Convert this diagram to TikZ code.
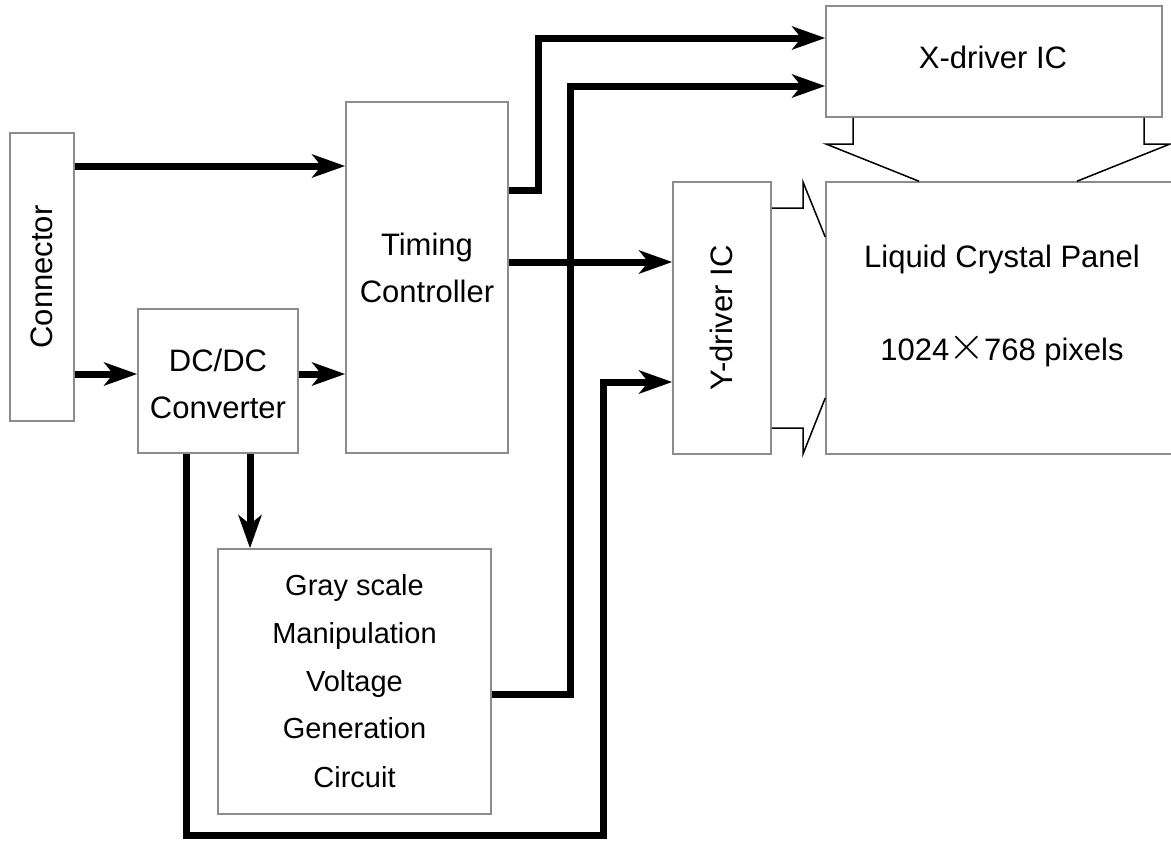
\documentclass[tikz,border=0pt]{standalone}
\usepackage{fontspec}
\usepackage{graphicx}
\setmainfont{Liberation Sans}
\usetikzlibrary{arrows.meta}
\definecolor{boxgray}{RGB}{140,140,140}
\tikzset{
  blk/.style={draw=boxgray, line width=1.5pt, inner sep=0pt, minimum width=#1},
  thickarr/.style={line width=7pt, line join=miter, -{Stealth[length=33pt,width=23pt,inset=9pt]}},
  thinline/.style={line width=1.5pt, line join=miter},
  txt/.style={font=\fontsize{31}{37}\selectfont, inner sep=0pt, anchor=base},
  txts/.style={font=\fontsize{29}{35}\selectfont, inner sep=0pt, anchor=base}
}
\begin{document}
\begin{tikzpicture}[x=1pt,y=-1pt]
\useasboundingbox (0,0) rectangle (1171,841);
\clip (0,0) rectangle (1171,841);
% boxes
\node[blk=64pt, minimum height=288pt] (con) at (42,277) {};
\node[blk=160pt, minimum height=144pt] (dc) at (218,381) {};
\node[blk=162pt, minimum height=351pt] (tc) at (427,277.5) {};
\node[blk=273pt, minimum height=265pt] (gray) at (354.5,681.5) {};
\node[blk=336pt, minimum height=111pt] (xd) at (994,61.5) {};
\node[blk=98pt, minimum height=272pt] (yd) at (722,318) {};
\node[blk=359pt, minimum height=272pt] (lcp) at (1005.5,318) {};
% texts
\node[txt, rotate=90] (conT) at (52,277) {Connector};
\node[txt] (dcT1) at (218,371) {DC/DC};
\node[txt] (dcT2) at (218,418) {Converter};
\node[txt] (tcT1) at (427,255) {Timing};
\node[txt] (tcT2) at (427,302) {Controller};
\node[txts] (gT1) at (354.5,595) {Gray scale};
\node[txts] (gT2) at (354.5,643) {Manipulation};
\node[txts] (gT3) at (354.5,691) {Voltage};
\node[txts] (gT4) at (354.5,738) {Generation};
\node[txts] (gT5) at (354.5,787) {Circuit};
\node[txt] (xdT) at (993,68) {X-driver IC};
\node[txt, rotate=90] (ydT) at (732,318) {Y-driver IC};
\node[txt] (lcpT1) at (1002,267) {Liquid Crystal Panel};
\node[txt] (lcpT2) at (1002,360) {1024\kern-1pt\raisebox{0.5pt}{\scalebox{1.9}{$\times$}}\kern-1pt768 pixels};
% thick connectors
\draw[thickarr] (con.east |- 0,166) -- (tc.west |- 0,166);
\draw[thickarr] (con.east |- 0,374) -- (dc.west |- 0,374);
\draw[thickarr] (dc.east |- 0,374) -- (tc.west |- 0,374);
\draw[thickarr] (dc.south -| 250,0) -- (gray.north -| 250,0);
\draw[thickarr] (tc.east |- 0,190) -- (538,190) -- (538,38) -- (xd.west |- 0,38);
\draw[thickarr] (gray.east |- 0,694) -- (570,694) -- (570,86) -- (xd.west |- 0,86);
\draw[thickarr] (tc.east |- 0,262) -- (yd.west |- 0,262);
\draw[thickarr] (dc.south -| 186,0) -- (186,835) -- (603,835) -- (603,382) -- (yd.west |- 0,382);
% thin connectors (bus shapes)
\draw[thinline] (xd.south -| 853,0) -- (853,144) -- (826,144) -- (lcp.north -| 919,0);
\draw[thinline] (xd.south -| 1144,0) -- (1144,144) -- (1170,144) -- (lcp.north -| 1077,0);
\draw[thinline] (yd.east |- 0,208) -- (803,208) -- (803,182) -- (lcp.west |- 0,237);
\draw[thinline] (yd.east |- 0,428) -- (803,428) -- (803,454) -- (lcp.west |- 0,398);
\end{tikzpicture}
\end{document}
